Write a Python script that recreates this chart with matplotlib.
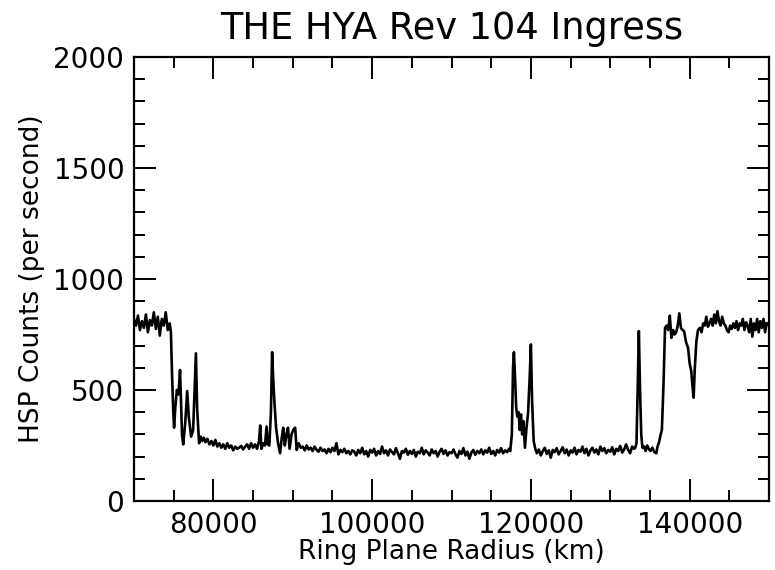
import matplotlib
matplotlib.use("Agg")
import matplotlib.pyplot as plt
from matplotlib.ticker import MultipleLocator

# ---- data ----
radius_a = [70000, 70250, 70500, 70750, 71000, 71250, 71500, 71750, 72000, 72250,
            72500, 72750, 73000, 73250, 73500, 73750, 74000, 74250, 74500]
counts_a = [820, 790, 835, 770, 810, 780, 840, 760, 815, 790,
            850, 775, 830, 745, 820, 790, 850, 770, 800]

radius_b = [74650, 74800, 74950, 75050, 75200, 75400, 75600, 75800, 75950, 76050,
            76200, 76450, 76700, 76900, 77200, 77450, 77650, 77800, 77950, 78200,
            78400, 78600, 78800, 79000, 79250, 79500, 79750, 80000, 80250, 80500,
            80750, 81000, 81250, 81500, 81750, 82000, 82250, 82500, 82750, 83000,
            83250, 83500, 83750, 84000, 84250, 84500, 84750, 85000, 85250, 85500,
            85750, 85900, 86050, 86300, 86500, 86700, 86850, 87050, 87250, 87400,
            87550, 87700, 87900, 88150, 88400, 88600, 88800, 89000, 89200, 89400,
            89600, 89850, 90050, 90300, 90500, 90750, 91000, 91250, 91500, 91750,
            92000, 92250, 92500, 92750, 93000, 93250, 93500, 93750, 94000, 94250,
            94500, 94750, 95000, 95250, 95500, 95750, 96000, 96250, 96500, 96750,
            97000, 97250, 97500]
counts_b = [760, 560, 400, 330, 420, 500, 480, 590, 420, 300,
            255, 350, 495, 380, 290, 320, 520, 665, 420, 260,
            290, 270, 285, 265, 280, 255, 270, 250, 275, 245,
            260, 240, 255, 235, 260, 240, 250, 228, 245, 235,
            240, 248, 232, 245, 255, 235, 260, 240, 255, 235,
            270, 340, 235, 260, 250, 335, 255, 250, 400, 670,
            540, 440, 330, 260, 215, 280, 330, 250, 300, 330,
            235, 300, 320, 330, 230, 260, 240, 245, 228, 250,
            232, 240, 225, 245, 230, 222, 240, 225, 232, 215,
            235, 220, 240, 225, 260, 210, 230, 220, 235, 215,
            225, 210, 228]

radius_c = [97750, 98000, 98250, 98500, 98750, 99000, 99250, 99500, 99750, 100000,
            100250, 100500, 100750, 101000, 101250, 101500, 101750, 102000, 102250, 102500,
            102750, 103000, 103250, 103500, 103750, 104000, 104250, 104500, 104750, 105000,
            105250, 105500, 105750, 106000, 106250, 106500, 106750, 107000, 107250, 107500,
            107750, 108000, 108250, 108500, 108750, 109000, 109250, 109500, 109750, 110000,
            110250, 110500, 110750, 111000, 111250, 111500, 111750, 112000, 112250, 112500,
            112750, 113000, 113250, 113500, 113750, 114000, 114250, 114500, 114750, 115000,
            115250, 115500, 115750, 116000, 116250, 116500, 116750, 117000, 117250]
counts_c = [222, 205, 230, 215, 240, 210, 225, 200, 230, 218,
            235, 205, 225, 212, 245, 215, 228, 205, 232, 220,
            210, 238, 215, 190, 225, 218, 235, 208, 225, 212,
            230, 200, 222, 215, 240, 210, 228, 218, 205, 232,
            215, 225, 200, 222, 235, 212, 228, 205, 220, 215,
            232, 210, 195, 225, 212, 238, 205, 222, 190, 218,
            230, 208, 225, 215, 232, 210, 228, 218, 240, 212,
            225, 205, 230, 218, 238, 215, 228, 220, 235]

radius_d = [117400, 117600, 117750, 117860, 118000, 118150, 118300, 118450, 118600, 118750,
            118900, 119050, 119250, 119450, 119650, 119850, 120000, 120150, 120350, 120550]
counts_d = [225, 300, 600, 670, 560, 420, 380, 400, 320, 390,
            300, 360, 240, 330, 400, 560, 705, 450, 270, 235]

radius_e = [120750, 121000, 121250, 121500, 121750, 122000, 122250, 122500, 122750, 123000,
            123250, 123500, 123750, 124000, 124250, 124500, 124750, 125000, 125250, 125500,
            125750, 126000, 126250, 126500, 126750, 127000, 127250, 127500, 127750, 128000,
            128250, 128500, 128750, 129000, 129250, 129500, 129750, 130000, 130250, 130500,
            130750, 131000, 131250, 131500, 131750, 132000, 132250, 132500, 132750, 133000,
            133150]
counts_e = [215, 232, 205, 225, 240, 212, 228, 195, 230, 220,
            238, 210, 225, 242, 215, 232, 205, 228, 218, 240,
            210, 230, 222, 245, 215, 235, 205, 228, 240, 218,
            232, 210, 245, 225, 238, 215, 230, 222, 242, 210,
            235, 225, 248, 218, 232, 255, 230, 215, 245, 235,
            240]

radius_f = [133300, 133450, 133600, 133750, 133900, 134050, 134250, 134450, 134650, 134850,
            135050, 135300, 135550, 135800, 135950, 136150, 136350, 136500, 136700, 136900,
            137100, 137300, 137500, 137700, 137900, 138100, 138300, 138500, 138700, 138900,
            139100, 139300, 139550, 139800, 140000, 140200, 140350, 140500, 140650, 140850,
            141050, 141300, 141500, 141700, 141900, 142100, 142300, 142500, 142700, 142900,
            143100, 143300, 143500, 143700, 143900, 144100, 144300, 144500, 144700, 144900,
            145100, 145300, 145500, 145700, 145900, 146100, 146300, 146500, 146700, 146900,
            147100, 147300, 147500, 147700, 147900, 148100, 148300, 148500, 148700, 148900,
            149100, 149300, 149500, 149700, 150000]
counts_f = [260, 500, 765, 500, 300, 240, 245, 225, 250, 235,
            225, 240, 220, 215, 245, 265, 300, 320, 520, 780,
            790, 770, 835, 735, 770, 750, 760, 790, 845, 780,
            770, 765, 715, 690, 620, 585, 520, 465, 600, 720,
            770, 780, 760, 800, 790, 830, 785, 800, 820, 790,
            840, 800, 855, 810, 790, 830, 800, 790, 770, 760,
            790, 775, 800, 780, 810, 770, 800, 790, 820, 770,
            805, 790, 760, 820, 740, 800, 770, 820, 760, 810,
            780, 820, 760, 800, 790]

radius = radius_a + radius_b + radius_c + radius_d + radius_e + radius_f
counts = counts_a + counts_b + counts_c + counts_d + counts_e + counts_f

# ---- figure ----
fig = plt.figure(figsize=(7.75, 5.70), dpi=100)
ax = fig.add_axes([0.1729, 0.1211, 0.8194, 0.7789])
ax.plot(radius, counts, color="black", linewidth=1.9)

ax.set_xlim(70000, 150000)
ax.set_ylim(0, 2000)
ax.set_xticks([80000, 100000, 120000, 140000])
ax.set_yticks([0, 500, 1000, 1500, 2000])
ax.xaxis.set_minor_locator(MultipleLocator(5000))
ax.yaxis.set_minor_locator(MultipleLocator(100))
ax.tick_params(which="both", direction="in", top=True, right=True, labelsize=20, pad=7)
ax.tick_params(which="major", length=16, width=1.4)
ax.tick_params(which="minor", length=8, width=1.4)
for sp in ax.spines.values():
    sp.set_linewidth(1.6)

ax.set_xlabel("Ring Plane Radius (km)", fontsize=19, labelpad=0)
ax.set_ylabel("HSP Counts (per second)", fontsize=19, labelpad=6)
ax.set_title("THE HYA Rev 104 Ingress", fontsize=26.5, pad=13)

fig.savefig("out.png", dpi=100)
